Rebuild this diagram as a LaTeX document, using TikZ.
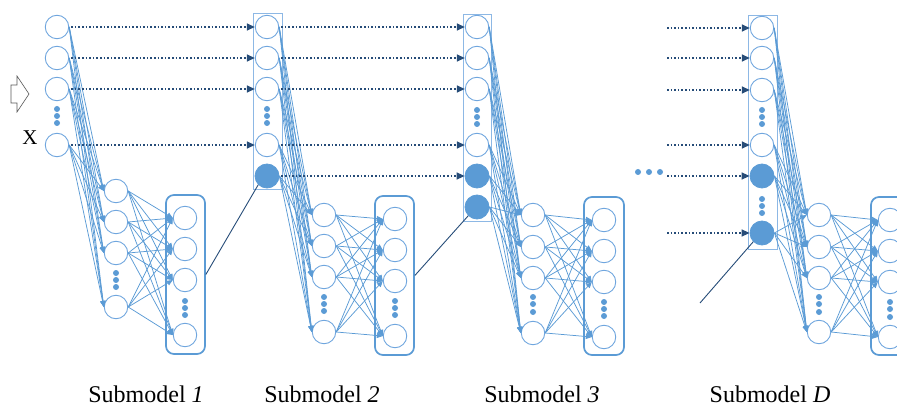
\documentclass[tikz,border=0pt]{standalone}
\usepackage{fontspec}
\setmainfont{Liberation Serif}
\usetikzlibrary{arrows.meta}
\definecolor{lb}{RGB}{91,155,213}
\definecolor{lc}{RGB}{112,166,222}
\definecolor{db}{RGB}{38,76,120}
\tikzset{
  neuron/.style={circle, draw=lc, line width=0.9pt, minimum size=23.5pt, inner sep=0pt},
  fneuron/.style={circle, draw=lb, fill=lb, line width=0.8pt, minimum size=24pt, inner sep=0pt},
  fan/.style={draw=lb, line width=0.75pt, -{Triangle[length=6pt,width=5pt]}},
  skiparrow/.style={draw=db, line width=1.5pt, dash pattern=on 1.5pt off 2.1pt, shorten <=2pt, -{Triangle[length=8pt,width=7pt]}},
  link/.style={draw=db, line width=0.9pt},
  inbox/.style={draw=lc!80, line width=0.9pt, inner sep=0pt},
  outbox/.style={draw=lb, line width=1.7pt, rounded corners=8pt, inner sep=0pt},
  vdot/.style={fill=lb},
  lbl/.style={font=\fontsize{24}{28}\selectfont, anchor=base, inner sep=0pt},
}
\begin{document}
\begin{tikzpicture}[x=1pt,y=-1pt]
\clip (0,0) rectangle (897,406);
\useasboundingbox (0,0) rectangle (897,406);

% ---------------- boxes
\node[inbox, minimum width=29pt, minimum height=176pt] (b2) at (267.5,101) {};
\node[inbox, minimum width=28pt, minimum height=207pt] (b3) at (477,117.5) {};
\node[inbox, minimum width=29pt, minimum height=234pt] (bD) at (762.5,132) {};
\node[outbox, minimum width=39pt, minimum height=159pt] (ob1) at (185.5,274.5) {};
\node[outbox, minimum width=39pt, minimum height=159pt] (ob2) at (394.5,275.5) {};
\node[outbox, minimum width=40pt, minimum height=158pt] (ob3) at (604,276) {};
\node[outbox, minimum width=39pt, minimum height=158pt] (obD) at (890.5,276) {};

% ---------------- submodel 1
\foreach \y [count=\i] in {27,58,89,145} \node[neuron] (s1i\i) at (57,\y) {};
\foreach \y [count=\i] in {191,222,253,307} \node[neuron] (s1h\i) at (116,\y) {};
\foreach \y [count=\i] in {218,249,280,335} \node[neuron] (s1o\i) at (185,\y) {};
\foreach \y in {109,116,123} \fill[vdot] (57,\y) circle (3pt);
\foreach \y in {273,280,287} \fill[vdot] (116,\y) circle (3pt);
\foreach \y in {301,308,315} \fill[vdot] (185,\y) circle (3pt);
\foreach \i in {1,...,4} \foreach \j in {1,...,4} \draw[fan] (s1i\i.east) -- (s1h\j.west);
\foreach \i in {1,...,4} \foreach \j in {1,...,4} \draw[fan] (s1h\i.east) -- (s1o\j.west);

% ---------------- submodel 2
\foreach \y/\s [count=\i] in {27/neuron,58/neuron,89/neuron,145/neuron,176/fneuron} \node[\s] (s2i\i) at (267,\y) {};
\foreach \y [count=\i] in {215,246,277,332} \node[neuron] (s2h\i) at (324,\y) {};
\foreach \y [count=\i] in {219,250,281,336} \node[neuron] (s2o\i) at (395,\y) {};
\foreach \y in {109,116,123} \fill[vdot] (267,\y) circle (3pt);
\foreach \y in {297,304,311} \fill[vdot] (324,\y) circle (3pt);
\foreach \y in {301,308,315} \fill[vdot] (395,\y) circle (3pt);
\foreach \i in {1,...,5} \foreach \j in {1,...,4} \draw[fan] (s2i\i.east) -- (s2h\j.west);
\foreach \i in {1,...,4} \foreach \j in {1,...,4} \draw[fan] (s2h\i.east) -- (s2o\j.west);

% ---------------- submodel 3
\foreach \y/\s [count=\i] in {27/neuron,58/neuron,89/neuron,145/neuron,176/fneuron,207/fneuron} \node[\s] (s3i\i) at (477,\y) {};
\foreach \y [count=\i] in {215,247,278,333} \node[neuron] (s3h\i) at (533,\y) {};
\foreach \y [count=\i] in {220,251,282,337} \node[neuron] (s3o\i) at (604,\y) {};
\foreach \y in {110,117,124} \fill[vdot] (477,\y) circle (3pt);
\foreach \y in {297,304,312} \fill[vdot] (533,\y) circle (3pt);
\foreach \y in {302,309,316} \fill[vdot] (604,\y) circle (3pt);
\foreach \i in {1,...,6} \foreach \j in {1,...,4} \draw[fan] (s3i\i.east) -- (s3h\j.west);
\foreach \i in {1,...,4} \foreach \j in {1,...,4} \draw[fan] (s3h\i.east) -- (s3o\j.west);

% ---------------- submodel D
\foreach \y/\s [count=\i] in {28/neuron,58/neuron,90/neuron,145/neuron,176/fneuron,233/fneuron} \node[\s] (sDi\i) at (762,\y) {};
\foreach \y [count=\i] in {215,247,278,332} \node[neuron] (sDh\i) at (819,\y) {};
\foreach \y [count=\i] in {220,251,282,337} \node[neuron] (sDo\i) at (890,\y) {};
\foreach \y in {110,117,124} \fill[vdot] (762,\y) circle (3pt);
\foreach \y in {199,206,213} \fill[vdot] (762,\y) circle (3pt);
\foreach \y in {297,304,312} \fill[vdot] (819,\y) circle (3pt);
\foreach \y in {302,309,317} \fill[vdot] (890,\y) circle (3pt);
\foreach \i in {1,...,6} \foreach \j in {1,...,4} \draw[fan] (sDi\i.east) -- (sDh\j.west);
\foreach \i in {1,...,4} \foreach \j in {1,...,4} \draw[fan] (sDh\i.east) -- (sDo\j.west);

% ---------------- skip (dotted) arrows
\foreach \i in {1,...,4} \draw[skiparrow] (s1i\i.east) -- (s2i\i.west);
\foreach \i in {1,...,5} \draw[skiparrow] (s2i\i.east) -- (s3i\i.west);
\foreach \i/\y in {1/28,2/58,3/90,4/145,5/176,6/233} {
  \coordinate (d\i) at (665,\y);
  \draw[skiparrow] (d\i) -- (sDi\i.west);
}
\foreach \x in {638,649,660} \fill[vdot] (\x,172) circle (3pt);

% ---------------- links output -> next extra input
\draw[link] (ob1.east) -- (s2i5.south west);
\draw[link] (ob2.east) -- (s3i6.south west);
\coordinate (dfree) at (700,303);
\draw[link] (dfree) -- (sDi6.south west);

% ---------------- input marker and X
\draw[draw=black!65, line width=0.6pt, fill=white] (11,85) -- (17,85) -- (17,76) -- (29,94) -- (17,112) -- (17,103) -- (11,103) -- cycle;
\node[font=\fontsize{21}{24}\selectfont, anchor=base, inner sep=0pt] (xlab) at (30,145) {X};

% ---------------- labels
\node[lbl] (l1) at (146,402) {Submodel \textit{1}};
\node[lbl] (l2) at (322,402) {Submodel \textit{2}};
\node[lbl] (l3) at (542,402) {Submodel \textit{3}};
\node[lbl] (lD) at (770,402) {Submodel \textit{D}};
\end{tikzpicture}
\end{document}
